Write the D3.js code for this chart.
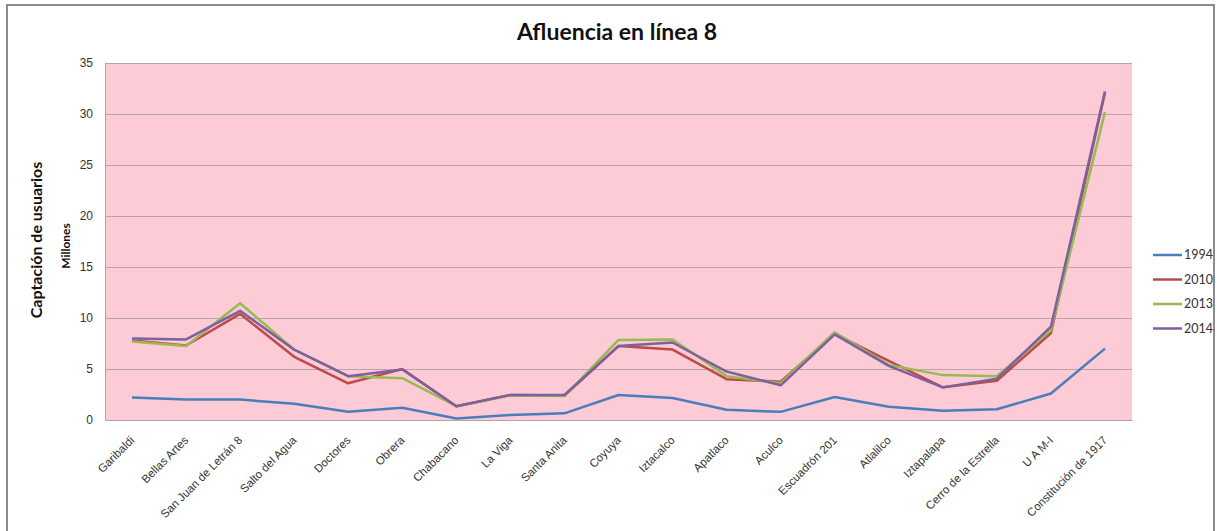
<!DOCTYPE html>
<html>
<head>
<meta charset="utf-8">
<script src="https://cdn.jsdelivr.net/npm/d3@7"></script>
<style>
  body { margin: 0; background: #fff; }
  svg { font-family: Lato, "Open Sans", sans-serif; }
</style>
</head>
<body>
<svg id="chart" width="1217" height="531"></svg>
<script>
var stations = ["Garibaldi", "Bellas Artes", "San Juan de Letrán 8", "Salto del Agua", "Doctores",
  "Obrera", "Chabacano", "La Viga", "Santa Anita", "Coyuya", "Iztacalco", "Apatlaco", "Aculco",
  "Escuadrón 201", "Atlalilco", "Iztapalapa", "Cerro de la Estrella", "U A M-I", "Constitución de 1917"]

var years = ["1994", "2010", "2013", "2014"]

var v1994 = [2.2, 2.0, 2.0, 1.6, 0.8, 1.2, 0.15, 0.5, 0.65, 2.45, 2.15, 1.0, 0.8, 2.25, 1.3, 0.9, 1.05, 2.6, 7.0]
var v2010 = [7.8, 7.3, 10.4, 6.2, 3.6, 5.0, 1.35, 2.45, 2.4, 7.25, 6.9, 4.0, 3.75, 8.45, 5.8, 3.2, 3.85, 8.5, 32.1]
var v2013 = [7.7, 7.25, 11.45, 6.9, 4.3, 4.1, 1.35, 2.4, 2.35, 7.85, 7.9, 4.3, 3.6, 8.6, 5.4, 4.4, 4.3, 8.8, 30.2]
var v2014 = [8.0, 7.9, 10.7, 6.9, 4.3, 4.95, 1.35, 2.45, 2.45, 7.25, 7.6, 4.75, 3.4, 8.4, 5.3, 3.2, 4.05, 9.15, 32.2]

var yTicks = [0, 5, 10, 15, 20, 25, 30, 35]

var colors = ["#4a7ebb", "#be4b48", "#98b954", "#7d60a0"]

var series = years.map((y, i) => ({ key: y, values: [v1994, v2010, v2013, v2014][i] }))

var svg = d3.select("#chart"),
  margin = {top: 63, left: 105, bottom: 111, right: 84},
  width = +svg.attr("width"),
  height = +svg.attr("height");

// outer frame
svg.append("rect")
  .attr("x", 7).attr("y", 5)
  .attr("width", 1207).attr("height", 540)
  .attr("fill", "#fff")
  .attr("stroke", "#8c8c8c")
  .attr("stroke-width", 2)

var x = d3.scaleBand()
  .domain(stations)
  .range([margin.left, width - margin.right - 1])

var y = d3.scaleLinear()
  .domain([0, 35])
  .range([height - margin.bottom, margin.top])

svg.append("rect")
  .attr("x", margin.left)
  .attr("y", margin.top)
  .attr("width", x.range()[1] - margin.left)
  .attr("height", y(0) - margin.top)
  .attr("fill", "#fccbd5")

svg.append("g")
  .selectAll("line")
  .data(yTicks.slice(1))
  .join("line")
    .attr("x1", margin.left).attr("x2", x.range()[1])
    .attr("y1", d => y(d) + 0.5).attr("y2", d => y(d) + 0.5)
    .attr("stroke", "#b9a4a9")
    .attr("stroke-width", 1)

// y axis
var yAxis = svg.append("g")
  .attr("transform", `translate(${margin.left},0)`)
  .call(d3.axisLeft(y).tickValues(yTicks).tickSize(0).tickPadding(12))
yAxis.select(".domain").attr("stroke", "#b0a5a7")
yAxis.selectAll("text").attr("font-size", 12).attr("fill", "#333")

// x axis
var xAxis = svg.append("g")
  .attr("transform", `translate(0,${y(0)})`)
  .call(d3.axisBottom(x).tickSize(0).tickPadding(0))
xAxis.select(".domain").attr("stroke", "#b0a5a7")
xAxis.selectAll("text")
  .attr("font-size", 11.5)
  .attr("fill", "#333")
  .attr("text-anchor", "end")
  .attr("dy", 0)
  .attr("transform", "translate(3,21) rotate(-45)")

var line = d3.line()
  .x((d, i) => x(stations[i]) + x.bandwidth() / 2)
  .y(d => y(d))

svg.append("g")
  .selectAll("path")
  .data(series)
  .join("path")
    .attr("d", d => line(d.values))
    .attr("fill", "none")
    .attr("stroke", (d, i) => colors[i])
    .attr("stroke-width", 2.5)
    .attr("stroke-linejoin", "round")

// title
svg.append("text")
  .attr("x", 617).attr("y", 40)
  .attr("text-anchor", "middle")
  .attr("font-size", 23)
  .attr("font-weight", "bold")
  .attr("fill", "#111")
  .text("Afluencia en línea 8")

svg.append("text")
  .attr("transform", "translate(42,240) rotate(-90)")
  .attr("text-anchor", "middle")
  .attr("font-size", 16)
  .attr("font-weight", "bold")
  .attr("fill", "#111")
  .text("Captación de usuarios")

svg.append("text")
  .attr("transform", "translate(70,246) rotate(-90)")
  .attr("text-anchor", "middle")
  .attr("font-size", 12)
  .attr("font-weight", "bold")
  .attr("fill", "#111")
  .text("Millones")

// legend
var legend = svg.append("g")
  .selectAll("g")
  .data(series)
  .join("g")
    .attr("transform", (d, i) => `translate(1153,${255 + i * 24.5})`)

legend.append("line")
  .attr("x1", 0).attr("x2", 29)
  .attr("stroke", (d, i) => colors[i])
  .attr("stroke-width", 2.5)

legend.append("text")
  .attr("x", 31).attr("dy", "0.35em")
  .attr("font-size", 12.5)
  .attr("fill", "#333")
  .text(d => d.key)
</script>
</body>
</html>
